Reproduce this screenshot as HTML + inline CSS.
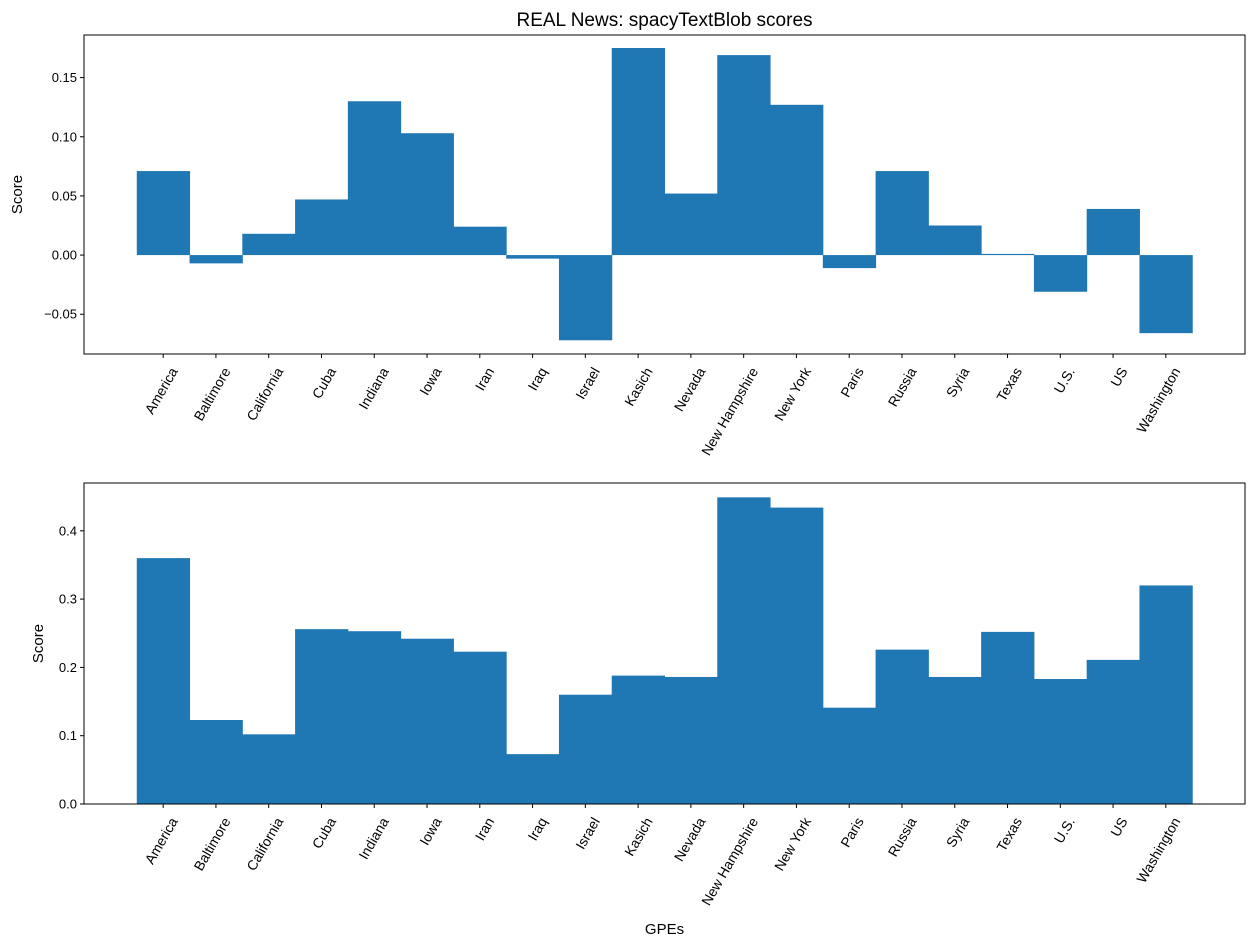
<!DOCTYPE html>
<html><head><meta charset="utf-8"><style>body{margin:0;background:#fff}svg{display:block;font-family:"Liberation Sans","DejaVu Sans",sans-serif}</style></head>
<body>
<svg id="c" width="1255" height="946"></svg>
<script>
const categories=["America","Baltimore","California","Cuba","Indiana","Iowa","Iran","Iraq","Israel","Kasich","Nevada","New Hampshire","New York","Paris","Russia","Syria","Texas","U.S.","US","Washington"];
const polarity=[0.071,-0.007,0.018,0.047,0.130,0.103,0.024,-0.003,-0.072,0.175,0.052,0.169,0.127,-0.011,0.071,0.025,0.001,-0.031,0.039,-0.066];
const subjectivity=[0.360,0.123,0.102,0.256,0.253,0.242,0.223,0.073,0.160,0.188,0.186,0.449,0.434,0.141,0.226,0.186,0.252,0.183,0.211,0.320];
const topTicks=[-0.05,0.00,0.05,0.10,0.15];
const topTickLabels=["\u22120.05","0.00","0.05","0.10","0.15"];
const botTicks=[0,0.1,0.2,0.3,0.4];
const botTickLabels=["0.0","0.1","0.2","0.3","0.4"];
const svg=document.getElementById('c');const NS='http://www.w3.org/2000/svg';
function mk(t,a,txt){const e=document.createElementNS(NS,t);for(const k in a)e.setAttribute(k,a[k]);if(txt!=null)e.textContent=txt;svg.appendChild(e);return e;}
const L=84,R=1245;const xs=i=>L+(i+1.5)*(R-L)/22;const bw=(R-L)/22;
function panel(top,bot,ymin,ymax,vals,ticks,tlabels,pfx,ylx){
 const y=v=>bot-(v-ymin)/(ymax-ymin)*(bot-top);
 vals.forEach((v,i)=>{const b=mk('rect',{x:xs(i)-bw/2,y:Math.min(y(v),y(0)),width:bw+0.5,height:Math.abs(y(v)-y(0)),fill:'#1f77b4'});
 
 });
 const f=mk('rect',{x:L,y:top,width:R-L,height:bot-top,fill:'none',stroke:'#000','stroke-width':1});
 
 ticks.forEach((t,i)=>{mk('line',{x1:L-4,x2:L,y1:y(t),y2:y(t),stroke:'#000'});
 const tl=mk('text',{x:L-7,y:y(t)+4.5,'text-anchor':'end','font-size':13},tlabels[i]);
 });
 categories.forEach((c,i)=>{mk('line',{x1:xs(i),x2:xs(i),y1:bot,y2:bot+4,stroke:'#000'});
 const px=xs(i)+15,py=bot+17;
 const tl=mk('text',{x:px,y:py,'text-anchor':'end','font-size':13.9,transform:`rotate(-60 ${px} ${py})`},c);
 });
 const yl=mk('text',{x:ylx,y:(top+bot)/2,'text-anchor':'middle','font-size':15,transform:`rotate(-90 ${ylx} ${(top+bot)/2})`},'Score');
 
}
panel(35,354,-0.0836,0.186,polarity,topTicks,topTickLabels,'top',22);
panel(483,804,0,0.470,subjectivity,botTicks,botTickLabels,'bottom',43);
const t=mk('text',{x:664.5,y:26,'text-anchor':'middle','font-size':19},'REAL News: spacyTextBlob scores');

const xl=mk('text',{x:664.5,y:934,'text-anchor':'middle','font-size':15},'GPEs');

</script>
</body></html>
